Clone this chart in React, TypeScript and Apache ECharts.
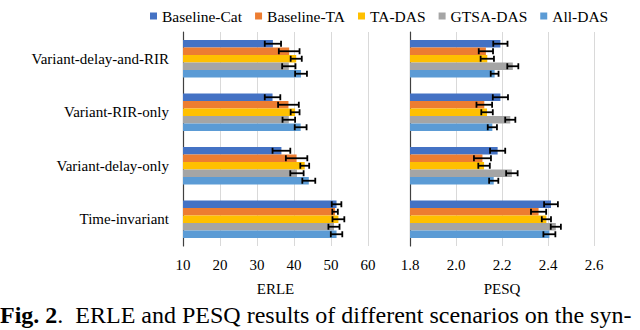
import React, { useEffect, useRef } from "react";
import * as echarts from "echarts";

const categories = ["Time-invariant", "Variant-delay-only", "Variant-RIR-only", "Variant-delay-and-RIR"];
const seriesNames = ["Baseline-Cat", "Baseline-TA", "TA-DAS", "GTSA-DAS", "All-DAS"];
const colors = ["#4472C4", "#ED7D31", "#FFC000", "#A5A5A5", "#5B9BD5"];

// ERLE (categories order: Time-invariant, delay-only, RIR-only, delay-and-RIR)
const erleBaselineCat = [51.5, 36.6, 34.2, 34.3];
const erleBaselineTA = [51.1, 40.7, 38.5, 38.7];
const erleTADAS = [52.0, 42.9, 40.3, 40.6];
const erleGTSADAS = [50.8, 40.8, 38.6, 38.6];
const erleAllDAS = [51.5, 44.0, 41.8, 41.9];

const erleErrBaselineCat = [1.3, 2.4, 2.1, 2.2];
const erleErrBaselineTA = [0.75, 2.9, 2.8, 2.8];
const erleErrTADAS = [1.6, 1.2, 1.2, 1.5];
const erleErrGTSADAS = [1.5, 1.8, 1.7, 1.8];
const erleErrAllDAS = [1.55, 1.75, 1.6, 1.6];

// PESQ
const pesqBaselineCat = [2.413, 2.181, 2.193, 2.193];
const pesqBaselineTA = [2.359, 2.115, 2.123, 2.13];
const pesqTADAS = [2.393, 2.122, 2.135, 2.136];
const pesqGTSADAS = [2.434, 2.243, 2.236, 2.247];
const pesqAllDAS = [2.406, 2.164, 2.158, 2.168];

const pesqErrBaselineCat = [0.03, 0.033, 0.033, 0.031];
const pesqErrBaselineTA = [0.033, 0.037, 0.034, 0.031];
const pesqErrTADAS = [0.02, 0.025, 0.025, 0.029];
const pesqErrGTSADAS = [0.022, 0.025, 0.022, 0.024];
const pesqErrAllDAS = [0.026, 0.02, 0.02, 0.017];

const erleTicks = { min: 10, max: 60, interval: 10 };
const pesqTicks = { min: 1.8, max: 2.6, interval: 0.2 };

const caption = "{b|Fig. 2}.  ERLE and PESQ results of different scenarios on the syn-";

const FONT = "Liberation Serif";
const BAR_W = 7.5;

export default function App() {
  const ref = useRef<HTMLDivElement>(null);
  useEffect(() => {
    if (!ref.current) return;
    const chart = echarts.init(ref.current, undefined, { renderer: "svg" });

    const erleVals = [erleBaselineCat, erleBaselineTA, erleTADAS, erleGTSADAS, erleAllDAS];
    const erleErrs = [erleErrBaselineCat, erleErrBaselineTA, erleErrTADAS, erleErrGTSADAS, erleErrAllDAS];
    const pesqVals = [pesqBaselineCat, pesqBaselineTA, pesqTADAS, pesqGTSADAS, pesqAllDAS];
    const pesqErrs = [pesqErrBaselineCat, pesqErrBaselineTA, pesqErrTADAS, pesqErrGTSADAS, pesqErrAllDAS];

    const barSeries: any[] = [];
    [erleVals, pesqVals].forEach((vals, gi) => {
      vals.forEach((arr, si) => {
        barSeries.push({
          type: "bar",
          name: seriesNames[si],
          xAxisIndex: gi,
          yAxisIndex: gi,
          data: arr,
          barWidth: BAR_W,
          barGap: "0%",
          itemStyle: { color: colors[si] },
        });
      });
    });

    const makeErr = (vals: number[][], errs: number[][], gi: number) => {
      const data: number[][] = [];
      vals.forEach((arr, si) => {
        arr.forEach((v, ci) => data.push([v, ci, errs[si][ci], si]));
      });
      return {
        type: "custom",
        xAxisIndex: gi,
        yAxisIndex: gi,
        z: 10,
        silent: true,
        data,
        encode: { x: 0, y: 1 },
        renderItem: (params: any, api: any) => {
          const v = api.value(0);
          const ci = api.value(1);
          const e = api.value(2);
          const si = api.value(3);
          const c = api.coord([v, ci]);
          const y = c[1] + (si - 2) * BAR_W;
          const x1 = api.coord([v - e, ci])[0];
          const x2 = api.coord([v + e, ci])[0];
          const cap = 3;
          const style = { stroke: "#000", lineWidth: 1.8 };
          return {
            type: "group",
            children: [
              { type: "line", shape: { x1, y1: y, x2, y2: y }, style },
              { type: "line", shape: { x1, y1: y - cap, x2: x1, y2: y + cap }, style },
              { type: "line", shape: { x1: x2, y1: y - cap, x2, y2: y + cap }, style },
            ],
          };
        },
      };
    };

    const xCommon = {
      type: "value",
      axisLine: { show: false },
      axisTick: { show: false },
      splitLine: { lineStyle: { color: "#D9D9D9", width: 1 } },
      nameLocation: "middle",
      nameGap: 35,
      nameTextStyle: { fontFamily: FONT, fontSize: 15, color: "#000" },
    };
    const yCommon = {
      type: "category",
      data: categories,
      axisTick: { show: false },
      axisLine: { lineStyle: { color: "#404040", width: 1.2 } },
    };

    chart.setOption({
      animation: false,
      color: colors,
      textStyle: { fontFamily: FONT },
      legend: {
        data: seriesNames,
        left: 145,
        top: 3,
        itemWidth: 7,
        itemHeight: 7,
        itemGap: 13,
        icon: "rect",
        textStyle: { fontFamily: FONT, fontSize: 15.5, color: "#000" },
      },
      grid: [
        { left: 183, width: 185, top: 32, height: 214 },
        { left: 410, width: 184, top: 32, height: 214 },
      ],
      xAxis: [
        {
          ...xCommon,
          gridIndex: 0,
          name: "ERLE",
          ...erleTicks,
          axisLabel: { fontFamily: FONT, fontSize: 15, color: "#000", margin: 11 },
        },
        {
          ...xCommon,
          gridIndex: 1,
          name: "PESQ",
          ...pesqTicks,
          axisLabel: {
            fontFamily: FONT,
            fontSize: 15,
            color: "#000",
            margin: 11,
            formatter: (v: number) => v.toFixed(1),
          },
        },
      ],
      yAxis: [
        {
          ...yCommon,
          gridIndex: 0,
          axisLabel: { fontFamily: FONT, fontSize: 15, color: "#000", margin: 14 },
        },
        { ...yCommon, gridIndex: 1, axisLabel: { show: false } },
      ],
      graphic: [
        {
          type: "text",
          left: 0,
          top: 303,
          style: {
            text: caption,
            fontFamily: FONT,
            fontSize: 24,
            fill: "#000",
            rich: { b: { fontFamily: FONT, fontSize: 24, fontWeight: "bold", fill: "#000" } },
          },
        },
      ],
      series: [...barSeries, makeErr(erleVals, erleErrs, 0), makeErr(pesqVals, pesqErrs, 1)],
    });

    return () => chart.dispose();
  }, []);

  return (
    <div
      ref={ref}
      style={{ position: "absolute", left: 0, top: 0, width: 640, height: 330, background: "#fff" }}
    />
  );
}
